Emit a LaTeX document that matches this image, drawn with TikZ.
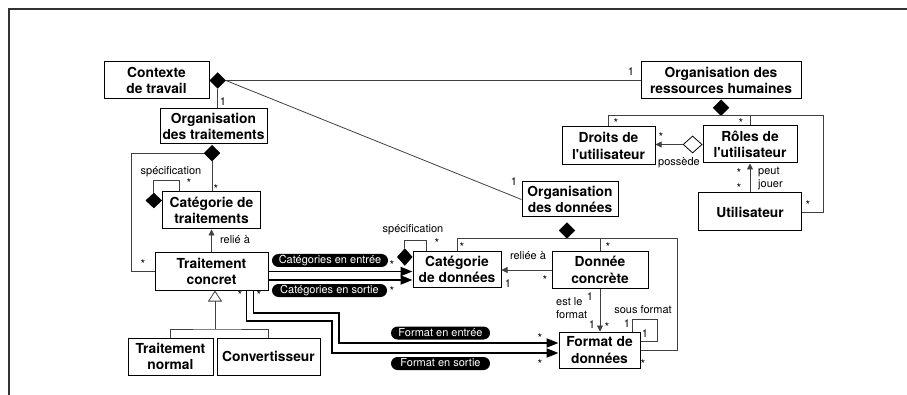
\documentclass[tikz,border=0pt]{standalone}
\usepackage{fontspec}
\setmainfont{TeX Gyre Heros}
\usetikzlibrary{shapes.geometric,arrows.meta,calc}

\begin{document}
\begin{tikzpicture}[x=1pt,y=-1pt,
    classe/.style={draw,line width=1pt,align=center,inner sep=0pt,
      font=\bfseries\fontsize{13.8}{16.5}\selectfont},
    compo/.style={diamond,draw=black,fill=black,inner sep=0pt,minimum width=16pt,minimum height=16pt},
    agreg/.style={compo,fill=white,line width=0.8pt},
    lien/.style={draw=black!75,line width=0.8pt},
    fleche/.style={lien,-{Triangle[length=6pt,width=6pt]}},
    flux/.style={draw=black,line width=1.8pt,-{Triangle[length=12pt,width=9pt]}},
    role/.style={fill=black,text=white,rounded corners=6.5pt,minimum height=13pt,
      inner xsep=5pt,inner ysep=0pt,text height=8pt,text depth=2pt,
      font=\fontsize{11}{12}\selectfont},
    texte/.style={inner sep=0pt,font=\fontsize{11}{13}\selectfont},
    mult/.style={inner sep=0pt,font=\fontsize{11}{12}\selectfont},
    etoile/.style={mult,yshift=-2.6pt,font=\fontsize{12}{12}\selectfont}]
  \useasboundingbox (0,0) rectangle (907,395);
  % cadre
  \draw[black!80,line width=1.2pt] (9,395) -- (9,9) -- (907,9);

  % classes
  \node[classe,minimum width=105pt,minimum height=37pt] (ctx) at (156.5,80.5) {Contexte\\de travail};
  \node[classe,minimum width=107pt,minimum height=35pt] (ort) at (213.5,126.5) {Organisation\\des traitements};
  \node[classe,minimum width=98pt,minimum height=37pt] (ctr) at (211.5,210.5) {Catégorie de\\traitements};
  \node[classe,minimum width=113pt,minimum height=37pt] (tc) at (211.5,271.5) {Traitement\\concret};
  \node[classe,minimum width=85pt,minimum height=37pt] (tn) at (170.5,356.5) {Traitement\\normal};
  \node[classe,minimum width=103pt,minimum height=37pt] (conv) at (268.5,356.5) {Convertisseur};
  \node[classe,minimum width=160pt,minimum height=37pt] (orh) at (721,80.5) {Organisation des\\ressources humaines};
  \node[classe,minimum width=93pt,minimum height=38pt] (dro) at (608.5,146) {Droits de\\l\textquotesingle utilisateur};
  \node[classe,minimum width=94pt,minimum height=37pt] (rol) at (750,144.5) {Rôles de\\l\textquotesingle utilisateur};
  \node[classe,minimum width=103pt,minimum height=38pt] (uti) at (750,212) {Utilisateur};
  \node[classe,minimum width=96pt,minimum height=35pt] (odo) at (570,199.5) {Organisation\\des données};
  \node[classe,minimum width=88pt,minimum height=35pt] (cdo) at (457,269.5) {Catégorie\\de données};
  \node[classe,minimum width=96pt,minimum height=36pt] (dco) at (600,270) {Donnée\\concrète};
  \node[classe,minimum width=81pt,minimum height=36pt] (fdo) at (599.5,350) {Format de\\données};

  % losanges
  \node[compo,anchor=west] (dctx) at (ctx.east) {};
  \node[compo,anchor=north] (dort) at (212,145) {};
  \node[compo,anchor=east,minimum height=15pt] (dctr) at (ctr.west |- 0,200.5) {};
  \node[compo,anchor=north] (dorh) at (orh.south) {};
  \node[compo] (dodo) at (567,230.5) {};
  \node[compo,anchor=east,minimum width=15pt,minimum height=17pt] (dcdo) at (cdo.west |- 0,257) {};
  \node[agreg,anchor=east,minimum width=19pt,minimum height=17pt] (dpos) at (rol.west) {};

  % contexte
  \draw[lien] (dctx.east) -- (orh.west);
  \draw[lien] (dctx.east) -- (odo.west);
  \draw[lien] (dctx.south) -- (dctx.south |- ort.north);

  % traitements
  \draw[lien] (dort.south) -- (dort.south |- ctr.north);
  \draw[lien] (dort.west) -| (131,0 |- tc.west) -- (tc.west);
  \draw[lien] (dctr.north) |- ([xshift=17pt,yshift=11pt]ctr.north west) -- ([xshift=17pt]ctr.north west);
  \draw[fleche] (tc.north) -- (ctr.south);
  \coordinate (gj) at (215,329);
  \draw[lien] (tn.north) |- (gj) -| (conv.north);
  \draw[lien,-{Triangle[open,length=11pt,width=14pt]}] (gj) -- (gj |- tc.south);

  % flux entre traitement et donnees
  \coordinate (ce2) at ($(tc.east)+(0,8.5)$);
  \draw[flux] (tc.east) -- (tc.east -| cdo.west);
  \draw[flux] (ce2) -- (ce2 -| cdo.west);
  \coordinate (fs1) at ($(tc.south east)+(-15,0)$);
  \coordinate (fs2) at ($(tc.south east)+(-22,0)$);
  \coordinate (fe1) at ($(fdo.west)+(0,-7)$);
  \coordinate (fe2) at ($(fdo.west)+(0,3)$);
  \draw[flux] (fs1) |- (339,313) |- (fe1);
  \draw[flux] (fs2) |- (332,321) |- (fe2);
  \node[role,minimum width=116pt] (p1) at (330,260.5) {Catégories en entrée};
  \node[role,minimum width=115pt] (p2) at (329.5,290.5) {Catégories en sortie};
  \node[role,minimum width=99pt] (p3) at (440.5,333) {Format en entrée};
  \node[role,minimum width=99pt] (p4) at (440.5,363.5) {Format en sortie};

  % donnees
  \draw[lien] (cdo.north) |- (dodo.south) -| (dco.north);
  \draw[lien] (dodo.south) -| (677,0 |- fdo.east) -- (fdo.east);
  \draw[lien] (dcdo.north) |- ([xshift=14pt,yshift=11pt]cdo.north west) -- ([xshift=14pt]cdo.north west);
  \draw[fleche] (dco.west) -- (dco.west -| cdo.east);
  \draw[fleche] (dco.south) -- (dco.south |- fdo.north);
  \draw[lien] ([xshift=-8pt]fdo.north east) |- ([xshift=17pt,yshift=12pt]fdo.north east) |- ([yshift=-10pt]fdo.north east);

  % ressources humaines
  \draw[lien] (dro.north) |- (dorh.south) -| (rol.north);
  \draw[lien] (dorh.south) -| (823,0 |- uti.east) -- (uti.east);
  \draw[fleche] (dpos.west) -- (dpos.west -| dro.east);
  \draw[fleche] (uti.north) -- (rol.south);

  % libelles
  \node[texte] (s1) at (171,172) {spécification};
  \node[texte] (s2) at (413,230) {spécification};
  \node[texte] (r1) at (235,240) {relié à};
  \node[texte] (r2) at (528,256) {reliée à};
  \node[texte,align=left,anchor=west] (ef) at (556,308.5) {est le\\format};
  \node[texte] (sf) at (643,310) {sous format};
  \node[texte] (po) at (679,163) {possède};
  \node[texte,align=left,anchor=west] (pj) at (758,178.5) {peut\\jouer};

  % multiplicites
  \foreach \x/\y [count=\i] in {223/102, 631/72, 514/182, 508/284, 590/297, 592/325, 627/324, 645/334}
    \node[mult] (u\i) at (\x,\y) {1};
  \foreach \x/\y [count=\i] in {216/187, 189/181, 143/262, 392/263, 392/289, 437/241, 462/245,
      608/245, 643/362, 545/278, 607/325, 240/293, 259/293, 540/336, 540/362,
      616/121, 741/121, 661/135, 739/171, 739/186, 808/203}
    \node[etoile] (e\i) at (\x,\y) {*};
\end{tikzpicture}
\end{document}
